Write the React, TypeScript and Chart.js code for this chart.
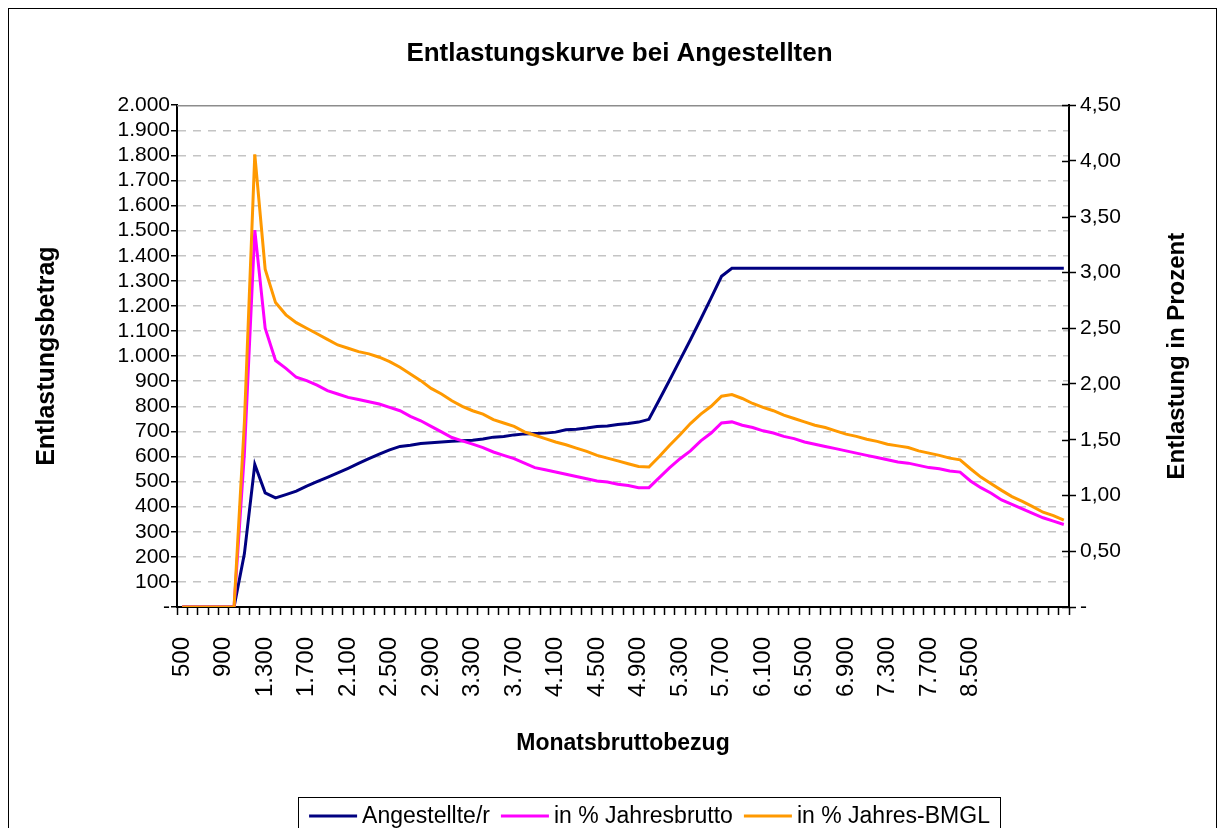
import React, { useEffect, useRef } from 'react';
import { Chart, registerables } from 'chart.js';

Chart.register(...registerables);

// Monatsbruttobezug (categories)
const categories: number[] = [
  500, 600, 700, 800, 900, 1000, 1100, 1200, 1300, 1400, 1500, 1600, 1700, 1800, 1900, 2000,
  2100, 2200, 2300, 2400, 2500, 2600, 2700, 2800, 2900, 3000, 3100, 3200, 3300, 3400, 3500,
  3600, 3700, 3800, 3900, 4000, 4100, 4200, 4300, 4400, 4500, 4600, 4700, 4800, 4900, 5000,
  5100, 5200, 5300, 5400, 5500, 5600, 5700, 5800, 5900, 6000, 6100, 6200, 6300, 6400, 6500,
  6600, 6700, 6800, 6900, 7000, 7100, 7200, 7300, 7400, 7500, 7600, 7700, 7800, 7900, 8000,
  8500, 9000, 9500, 10000, 10500, 11000, 11500, 12000, 12500, 13000,
];

// category labels that are shown on the x axis
const xTickLabels: string[] = [
  '500', '900', '1.300', '1.700', '2.100', '2.500', '2.900', '3.300', '3.700', '4.100',
  '4.500', '4.900', '5.300', '5.700', '6.100', '6.500', '6.900', '7.300', '7.700', '8.500',
];

// Entlastungsbetrag (left axis)
const angestellte: number[] = [
  0, 0, 0, 0, 0, 0, 213, 568, 455, 435, 448, 462, 482, 500, 517, 535, 553, 572, 591, 609,
  626, 640, 645, 652, 655, 658, 661, 663, 665, 670, 677, 680, 686, 690, 692, 693, 697, 706,
  708, 713, 719, 721, 727, 731, 737, 748, 826, 905, 985, 1065, 1148, 1232, 1318,
  1350, 1350, 1350, 1350, 1350, 1350, 1350, 1350, 1350, 1350, 1350, 1350, 1350, 1350, 1350,
  1350, 1350, 1350, 1350, 1350, 1350, 1350, 1350, 1350, 1350, 1350, 1350, 1350, 1350, 1350,
  1350, 1350, 1350,
];

// Entlastung in Prozent (right axis)
const jahresbrutto: number[] = [
  0, 0, 0, 0, 0, 0, 1.38, 3.38, 2.5, 2.21, 2.14, 2.06, 2.03, 1.99, 1.94, 1.91, 1.88, 1.86,
  1.84, 1.82, 1.79, 1.76, 1.71, 1.67, 1.62, 1.57, 1.52, 1.49, 1.46, 1.43, 1.39, 1.36, 1.33,
  1.29, 1.25, 1.23, 1.21, 1.19, 1.17, 1.15, 1.13, 1.12, 1.1, 1.09, 1.07, 1.07, 1.16, 1.25,
  1.33, 1.4, 1.49, 1.56, 1.65, 1.66, 1.63, 1.61, 1.58, 1.56, 1.53, 1.51, 1.48, 1.46, 1.44,
  1.42, 1.4, 1.38, 1.36, 1.34, 1.32, 1.3, 1.29, 1.27, 1.25, 1.24, 1.22, 1.21, 1.13, 1.07,
  1.02, 0.96, 0.92, 0.88, 0.84, 0.8, 0.77, 0.74,
];

const jahresBmgl: number[] = [
  0, 0, 0, 0, 0, 0, 1.66, 4.06, 3.03, 2.73, 2.62, 2.55, 2.5, 2.45, 2.4, 2.35, 2.32, 2.29,
  2.27, 2.24, 2.2, 2.15, 2.09, 2.03, 1.96, 1.91, 1.85, 1.8, 1.76, 1.73, 1.68, 1.65, 1.62,
  1.57, 1.54, 1.51, 1.48, 1.455, 1.425, 1.395, 1.36, 1.335, 1.31, 1.285, 1.26, 1.255, 1.35,
  1.45, 1.545, 1.645, 1.73, 1.8, 1.89, 1.905, 1.87, 1.825, 1.79, 1.76, 1.72, 1.69, 1.66,
  1.63, 1.61, 1.58, 1.55, 1.53, 1.505, 1.485, 1.46, 1.445, 1.43, 1.4, 1.38, 1.36, 1.335,
  1.32, 1.24, 1.165, 1.105, 1.046, 0.99, 0.947, 0.9, 0.85, 0.82, 0.78,
];

const FONT = '"Liberation Sans", Arial, Helvetica, sans-serif';

function fmtThousands(n: number): string {
  if (n === 0) return '-';
  const s = Math.round(n).toString();
  return s.replace(/\B(?=(\d{3})+(?!\d))/g, '.');
}

function fmtPercent(n: number): string {
  if (Math.abs(n) < 1e-9) return '-';
  return n.toFixed(2).replace('.', ',');
}

const decorPlugin = {
  id: 'decor',
  beforeDatasetsDraw(chart: any) {
    const { ctx, chartArea } = chart;
    ctx.save();
    // plot area top border
    ctx.strokeStyle = '#8c8c8c';
    ctx.lineWidth = 1.5;
    ctx.beginPath();
    ctx.moveTo(chartArea.left, chartArea.top + 0.5);
    ctx.lineTo(chartArea.right, chartArea.top + 0.5);
    ctx.stroke();
    // inner ticks of right axis
    const y1 = chart.scales.y1;
    ctx.strokeStyle = '#000';
    ctx.lineWidth = 1.5;
    y1.ticks.forEach((t: any) => {
      const y = Math.round(y1.getPixelForValue(t.value)) + 0.5;
      ctx.beginPath();
      ctx.moveTo(chartArea.right - 7, y);
      ctx.lineTo(chartArea.right, y);
      ctx.stroke();
    });
    ctx.restore();
  },
  afterDraw(chart: any) {
    const { ctx, chartArea, width, height } = chart;
    ctx.save();
    // chart outer frame
    ctx.strokeStyle = '#000';
    ctx.lineWidth = 1;
    ctx.strokeRect(0.5, 0.5, width - 1, height + 20);

    // right axis title (reads bottom to top)
    ctx.fillStyle = '#000';
    ctx.font = `bold 24px ${FONT}`;
    ctx.textAlign = 'center';
    ctx.textBaseline = 'middle';
    ctx.translate(1169, (chartArea.top + chartArea.bottom) / 2);
    ctx.rotate(-Math.PI / 2);
    ctx.fillText('Entlastung in Prozent', 0, 0);
    ctx.restore();

    // legend
    ctx.save();
    const boxLeft = 290.5;
    const boxTop = 789.5;
    const boxW = 702;
    ctx.strokeStyle = '#000';
    ctx.lineWidth = 1;
    ctx.strokeRect(boxLeft, boxTop, boxW, 80);
    ctx.font = `23px ${FONT}`;
    const sample = 48;
    const gapText = 5;
    const gapItem = 11;
    const ds = chart.data.datasets;
    let total = 0;
    ds.forEach((d: any, i: number) => {
      total += sample + gapText + ctx.measureText(d.label).width + (i < ds.length - 1 ? gapItem : 0);
    });
    let x = boxLeft + (boxW - total) / 2;
    const cy = 808;
    ctx.textBaseline = 'middle';
    ctx.textAlign = 'left';
    ds.forEach((d: any) => {
      ctx.strokeStyle = d.borderColor;
      ctx.lineWidth = 3;
      ctx.beginPath();
      ctx.moveTo(x, cy);
      ctx.lineTo(x + sample, cy);
      ctx.stroke();
      x += sample + gapText;
      ctx.fillStyle = '#000';
      ctx.fillText(d.label, x, cy + 1);
      x += ctx.measureText(d.label).width + gapItem;
    });
    ctx.restore();
  },
};

export default function App() {
  const canvasRef = useRef<HTMLCanvasElement | null>(null);

  useEffect(() => {
    document.documentElement.style.overflow = 'hidden';
    const canvas = canvasRef.current;
    if (!canvas) return;
    Chart.defaults.font.family = FONT;
    Chart.defaults.color = '#000';

    const chart = new Chart(canvas, {
      type: 'line',
      data: {
        labels: categories.map((c) => fmtThousands(c)),
        datasets: [
          {
            label: 'Angestellte/r',
            data: angestellte,
            yAxisID: 'y',
            borderColor: '#000080',
            backgroundColor: '#000080',
            borderWidth: 3,
            pointRadius: 0,
            tension: 0,
            order: 2,
          },
          {
            label: 'in % Jahresbrutto',
            data: jahresbrutto,
            yAxisID: 'y1',
            borderColor: '#FF00FF',
            backgroundColor: '#FF00FF',
            borderWidth: 3,
            pointRadius: 0,
            tension: 0,
            order: 1,
          },
          {
            label: 'in % Jahres-BMGL',
            data: jahresBmgl,
            yAxisID: 'y1',
            borderColor: '#FF9900',
            backgroundColor: '#FF9900',
            borderWidth: 3,
            pointRadius: 0,
            tension: 0,
            order: 0,
          },
        ],
      },
      options: {
        responsive: false,
        animation: false,
        devicePixelRatio: 1,
        layout: { padding: { left: 14, right: 0, top: 0, bottom: 79 } },
        plugins: {
          legend: { display: false },
          tooltip: { enabled: false },
          title: {
            display: true,
            text: 'Entlastungskurve bei Angestellten',
            color: '#000',
            font: { size: 26, weight: 'bold', family: FONT },
            padding: { top: 30, bottom: 36 },
          },
        },
        scales: {
          x: {
            type: 'category',
            offset: true,
            grid: {
              display: true,
              drawOnChartArea: false,
              offset: true,
              tickLength: 8,
              tickColor: '#000',
              tickWidth: 1.5,
            },
            border: { display: true, color: '#000', width: 2 },
            ticks: {
              autoSkip: false,
              maxRotation: 90,
              minRotation: 90,
              padding: 22,
              font: { size: 24, family: FONT },
              color: '#000',
              callback: function (this: any, _v: any, index: number) {
                const lbl = fmtThousands(categories[index]);
                return xTickLabels.includes(lbl) && index % 4 === 0 ? lbl : '';
              },
            },
            title: {
              display: true,
              text: 'Monatsbruttobezug',
              color: '#000',
              font: { size: 23, weight: 'bold', family: FONT },
              padding: { top: 0, bottom: 0 },
            },
            afterFit: (scale: any) => {
              scale.height = 150;
            },
          },
          y: {
            position: 'left',
            min: 0,
            max: 2000,
            ticks: {
              stepSize: 100,
              autoSkip: false,
              padding: 1,
              font: { size: 21, family: FONT },
              color: '#000',
              callback: (v: any) => fmtThousands(Number(v)),
            },
            grid: {
              color: (c: any) =>
                c.tick && (c.tick.value === 0 || c.tick.value === 2000) ? 'rgba(0,0,0,0)' : '#c4c4c4',
              lineWidth: 1.5,
              tickLength: 6,
              tickColor: '#000',
              tickWidth: 1.5,
            },
            border: { display: true, color: '#000', width: 2, dash: [8, 7] },
            title: {
              display: true,
              text: 'Entlastungsbetrag',
              color: '#000',
              font: { size: 25, weight: 'bold', family: FONT },
              padding: { top: 10, bottom: 0 },
            },
            afterFit: (scale: any) => {
              scale.width = 155;
            },
          },
          y1: {
            position: 'right',
            min: 0,
            max: 4.5,
            ticks: {
              stepSize: 0.5,
              autoSkip: false,
              padding: 4,
              font: { size: 21, family: FONT },
              color: '#000',
              callback: (v: any) => fmtPercent(Number(v)),
            },
            grid: {
              drawOnChartArea: false,
              tickLength: 7,
              tickColor: '#000',
              tickWidth: 1.5,
            },
            border: { display: true, color: '#000', width: 2 },
            afterFit: (scale: any) => {
              scale.width = 148;
            },
          },
        },
      },
      plugins: [decorPlugin],
    } as any);

    return () => {
      chart.destroy();
    };
  }, []);

  return (
    <div style={{ width: 1209, height: 828, marginBottom: -8 }}>
      <canvas ref={canvasRef} width={1209} height={828} style={{ display: 'block' }} />
    </div>
  );
}
